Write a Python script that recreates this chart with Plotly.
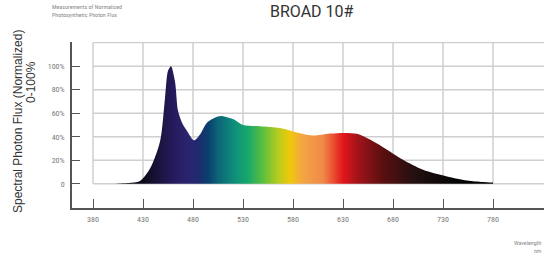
import plotly.graph_objects as go

# ---- data ----
wavelength = [400, 405, 415, 427, 437, 447, 452, 455, 458, 462, 465, 469, 474, 481, 487,
              494, 504, 510, 520, 530, 547, 567, 587, 600, 617, 632, 644, 657, 674, 690,
              710, 734, 754, 770, 780]
flux = [0, 0.3, 0.8, 2.5, 13, 36, 73, 96, 100, 87, 62, 52, 45, 37, 42,
        52, 57, 57.5, 55, 50, 49, 47.5, 43, 41, 42.7, 43.3, 42.5, 37.6, 29, 20.5,
        12, 6.3, 2.9, 1.6, 1.1]

x_ticks = [380, 430, 480, 530, 580, 630, 680, 730, 780]
y_ticks = [0, 20, 40, 60, 80, 100]
y_tick_labels = ["0", "20%", "40%", "60%", "80%", "100%"]
grid_y = [0, 20, 40, 60, 80, 100, 120]

title_text = "BROAD 10#"
subtitle_text = "Measurements of Normalized<br>Photosynthetic Photon Flux"
ytitle_line1 = "Spectral Photon Flux (Normalized)"
ytitle_line2 = "0-100%"
xtitle_text = "Wavelength<br>nm"

# spectrum colour stops (wavelength, colour)
color_wl = [400, 430, 450, 460, 475, 485, 495, 505, 520, 535, 550, 565, 577, 590, 610,
            630, 645, 670, 700, 740, 780]
color_hex = ["#000000", "#0d0a1a", "#1e1545", "#251a5c", "#2a2470", "#1f2a6e", "#0a3f6e",
             "#0d6478", "#0e8c7c", "#17a86a", "#5bbf3e", "#b5cc1e", "#f0c80a", "#f3a445",
             "#f08a48", "#e3161b", "#a0141a", "#5a0f10", "#251010", "#050505", "#000000"]

wl_min, wl_max = color_wl[0], color_wl[-1]
colorscale = [[(w - wl_min) / (wl_max - wl_min), c] for w, c in zip(color_wl, color_hex)]

W, H = 544, 257
ML, MR, MT, MB = 72, 0, 42, 49
X_RANGE = [359, 831]
Y_RANGE = [-20.5, 120.5]
GRID_COLOR = "#cfcfcf"
AXIS_COLOR = "#555555"
NARROW = "Liberation Sans Narrow, Roboto Condensed, Arial Narrow, Roboto, sans-serif"
TICK_FONT = dict(family=NARROW, size=8, color="#777777")


def px(x):
    return (x - ML) / (W - ML - MR)


def py(y):
    return 1 - (y - MT) / (H - MT - MB)


fig = go.Figure()
fig.add_trace(go.Scatter(
    x=wavelength, y=flux, mode="lines", line=dict(width=0, shape="spline", smoothing=0.8),
    fill="tozeroy",
    fillgradient=dict(type="horizontal", colorscale=colorscale, start=wl_min, stop=wl_max),
    hoverinfo="skip", showlegend=False,
))

shapes = []
for gy in grid_y:
    shapes.append(dict(type="line", xref="x", yref="y", x0=x_ticks[0], x1=X_RANGE[1],
                       y0=gy, y1=gy, line=dict(color=GRID_COLOR, width=1.5), layer="below"))
for gx in x_ticks:
    shapes.append(dict(type="line", xref="x", yref="y", x0=gx, x1=gx, y0=0, y1=grid_y[-1],
                       line=dict(color=GRID_COLOR, width=1.5), layer="below"))

fig.update_layout(
    width=W, height=H,
    margin=dict(l=ML, r=MR, t=MT, b=MB, autoexpand=False),
    paper_bgcolor="white", plot_bgcolor="white",
    shapes=shapes,
    xaxis=dict(range=X_RANGE, tickvals=x_ticks, ticks="inside", ticklen=9, tickwidth=1.2,
               tickcolor=AXIS_COLOR, showline=True, linecolor=AXIS_COLOR, linewidth=1.5,
               showgrid=False, zeroline=False, tickfont=TICK_FONT, ticklabelstandoff=3,
               automargin=False),
    yaxis=dict(range=Y_RANGE, tickvals=y_ticks, ticktext=y_tick_labels, ticks="inside",
               ticklen=8, tickwidth=1.2, tickcolor=AXIS_COLOR, showline=True,
               linecolor=AXIS_COLOR, linewidth=1.5, showgrid=False, zeroline=False,
               tickfont=TICK_FONT, ticklabelstandoff=4, automargin=False),
    annotations=[
        dict(text=title_text, x=px(312), y=py(12), xref="paper", yref="paper",
             xanchor="center", yanchor="middle", showarrow=False,
             font=dict(family="Roboto, sans-serif", size=16, color="#333333")),
        dict(text=subtitle_text, x=px(50), y=py(10), xref="paper", yref="paper",
             xanchor="left", yanchor="middle", showarrow=False, align="left",
             font=dict(family=NARROW, size=6, color="#888888")),
        dict(text=ytitle_line1, x=px(18), y=py(122), xref="paper", yref="paper",
             xanchor="center", yanchor="middle", textangle=-90, showarrow=False,
             font=dict(family="Liberation Sans, Arial, sans-serif", size=12, color="#333333")),
        dict(text=ytitle_line2, x=px(31), y=py(82), xref="paper", yref="paper",
             xanchor="center", yanchor="middle", textangle=-90, showarrow=False,
             font=dict(family="Liberation Sans, Arial, sans-serif", size=12, color="#333333")),
        dict(text=xtitle_text, x=px(544), y=py(246), xref="paper", yref="paper",
             xanchor="right", yanchor="middle", showarrow=False, align="right",
             font=dict(family=NARROW, size=6, color="#888888")),
    ],
)

fig.write_html("out.html", config={"displayModeBar": False},
               post_script="document.body.style.margin='0';")
